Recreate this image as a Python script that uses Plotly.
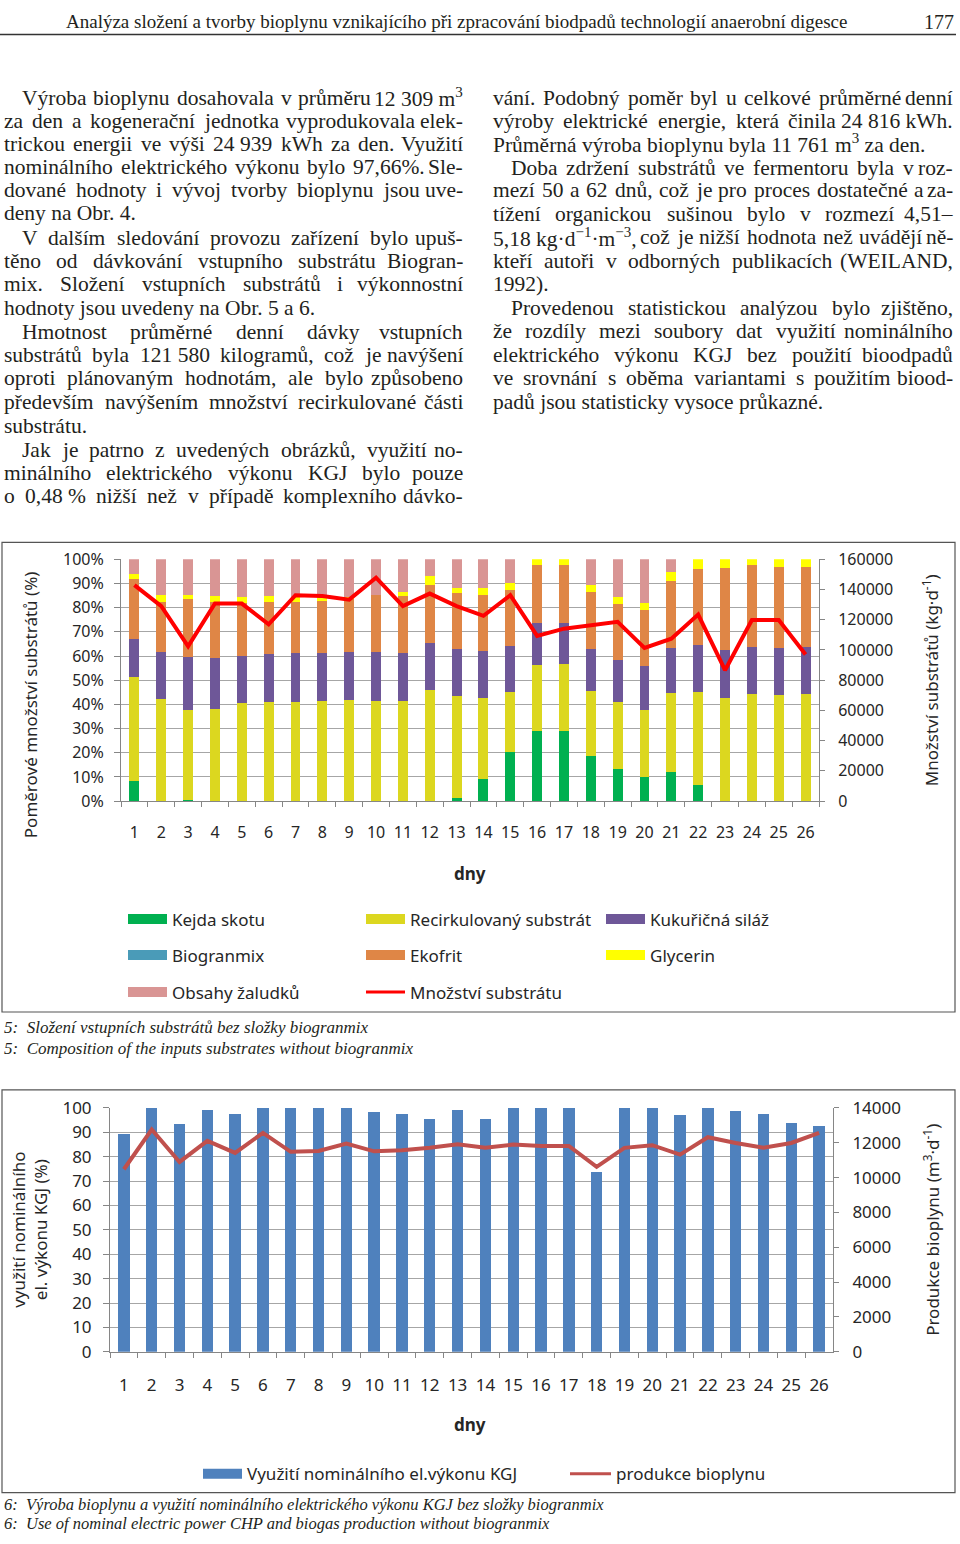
import re
import unicodedata

import plotly.graph_objects as go

W, H = 960, 1544
# the photographed page comes out squeezed a little vertically; measured on earlier runs
SY, OY = 0.9857, 11.4


def px(x):
    return x / W


def py(y):
    # y = wanted pixel row in the photo
    return 1 - ((y - OY) / SY) / H


dny = [str(d) for d in range(1, 27)]

# Obr. 5 - podily vstupnich substratu (%)
kejda_skotu = [8.5, 0, 0.4, 0, 0, 0, 0, 0, 0, 0, 0, 0, 1.4,
               9.2, 20.4, 28.9, 29.1, 18.7, 13.1, 10.1, 12.1, 6.5, 0, 0, 0, 0]
recirkulovany = [42.9, 42.3, 37.3, 38.2, 40.5, 40.8, 40.8, 41.3, 41.7, 41.3, 41.3, 46.1, 42.0,
                 33.5, 24.8, 27.3, 27.6, 26.9, 27.8, 27.6, 32.7, 38.7, 42.7, 44.2, 43.9, 44.2]
kukuricna_silaz = [15.7, 19.3, 21.7, 20.9, 19.7, 19.9, 20.4, 19.9, 19.9, 20.3, 19.9, 19.3, 19.4,
                   19.3, 19.0, 17.6, 17.1, 17.2, 17.4, 18.1, 18.6, 19.5, 19.7, 19.4, 19.5, 19.6]
biogranmix = [0] * 26
ekofrit = [24.9, 20.8, 24.1, 23.3, 21.9, 21.7, 21.2, 21.6, 22.1, 23.5, 23.6, 23.9, 23.4,
           23.1, 23.0, 23.7, 23.7, 23.7, 23.1, 23.1, 27.6, 31.2, 34.0, 33.9, 33.4, 33.0]
glycerin = [1.8, 2.7, 1.9, 2.4, 2.3, 2.4, 2.0, 1.2, 0.7, 0, 1.7, 3.8, 2.1,
            3.1, 3.0, 2.5, 2.5, 2.8, 3.0, 3.1, 3.8, 4.1, 3.6, 2.5, 3.2, 3.2]
obsahy_zaludku = [6.2, 14.9, 14.6, 15.2, 15.6, 15.2, 15.6, 16.0, 15.6, 14.9, 13.5, 6.9, 11.7,
                  11.8, 9.8, 0, 0, 10.7, 15.6, 18.0, 5.2, 0, 0, 0, 0, 0]
# mnozstvi substratu (kg/d)
mnozstvi = [142900, 129000, 102400, 130700, 130700, 117000, 136200, 135700, 133300, 147800,
            129000, 137300, 129000, 122600, 136200, 109300, 114100, 116300, 118600, 101400,
            107500, 123400, 86600, 119800, 119800, 97000]

# Obr. 6 - vyuziti nominalniho vykonu (%) a produkce bioplynu (m3/d)
vyuziti = [89.2, 100, 93.4, 99.2, 97.4, 100, 100, 100, 100, 98.4, 97.4, 95.6, 99.2,
           95.6, 100, 100, 100, 73.9, 100, 100, 97.0, 100, 98.8, 97.4, 94.0, 92.6]
bioplyn = [10480, 12760, 10900, 12110, 11420, 12570, 11480, 11530, 11950, 11510, 11570, 11710,
           11920, 11710, 11900, 11820, 11820, 10620, 11710, 11860, 11320, 12320, 11990, 11710,
           11990, 12570]

substraty = [
    ("Kejda skotu", kejda_skotu, "#00B050"),
    ("Recirkulovaný substrát", recirkulovany, "#DCD71F"),
    ("Kukuřičná siláž", kukuricna_silaz, "#6E5798"),
    ("Biogranmix", biogranmix, "#4A9BB8"),
    ("Ekofrit", ekofrit, "#DF8646"),
    ("Glycerin", glycerin, "#FFFF00"),
    ("Obsahy žaludků", obsahy_zaludku, "#D99594"),
]

CHART_FONT = "Noto Sans"
TEXT_FONT = "Liberation Serif"
GRID = "#A6A6A6"
AXIS = "#868686"
INK = "#262626"

fig = go.Figure()

for name, vals, col in substraty:
    fig.add_trace(go.Bar(x=dny, y=vals, name=name, marker=dict(color=col, line_width=0),
                         width=0.37, xaxis="x", yaxis="y"))

fig.add_trace(go.Scatter(x=dny, y=mnozstvi, name="Množství substrátu", mode="lines",
                         line=dict(color="#FF0000", width=4), xaxis="x", yaxis="y2"))

fig.add_trace(go.Bar(x=dny, y=vyuziti, name="Využití nominálního el.výkonu KGJ",
                     marker=dict(color="#4F81BD", line_width=0), width=0.41,
                     xaxis="x2", yaxis="y3"))
fig.add_trace(go.Scatter(x=dny, y=bioplyn, name="produkce bioplynu", mode="lines",
                         line=dict(color="#C0504D", width=4), xaxis="x2", yaxis="y4"))

tick_font = dict(family=CHART_FONT, size=16, color=INK)
tick_font2 = dict(family=CHART_FONT, size=17, color=INK)

fig.update_layout(
    width=W, height=H,
    margin=dict(l=0, r=0, t=0, b=0),
    paper_bgcolor="white", plot_bgcolor="white",
    barmode="stack", bargap=0.6,
    showlegend=False,
    font=dict(family=CHART_FONT, color=INK),
    xaxis=dict(domain=[px(121), px(819)], anchor="y", type="category",
               tickson="boundaries", ticks="outside", ticklen=5, tickcolor=AXIS,
               showline=True, linecolor=AXIS, showgrid=False, tickangle=0,
               ticklabelstandoff=17, tickfont=tick_font),
    yaxis=dict(domain=[py(801), py(559)], anchor="x", range=[0, 100], dtick=10,
               ticksuffix="%", ticks="outside", ticklen=6, tickcolor=AXIS,
               showline=True, linecolor=AXIS, gridcolor=GRID, zeroline=False,
               ticklabelstandoff=7, tickfont=tick_font),
    yaxis2=dict(overlaying="y", side="right", anchor="x", range=[0, 160000], dtick=20000,
                tickformat="d", ticks="outside", ticklen=5, tickcolor=AXIS,
                showline=True, linecolor=AXIS, showgrid=False, zeroline=False,
                ticklabelstandoff=10, tickfont=tick_font),
    xaxis2=dict(domain=[px(110), px(833)], anchor="y3", type="category",
                tickson="boundaries", ticks="outside", ticklen=5, tickcolor=AXIS,
                showline=True, linecolor=AXIS, showgrid=False, tickangle=0,
                ticklabelstandoff=18, tickfont=tick_font2),
    yaxis3=dict(domain=[py(1352), py(1108)], anchor="x2", range=[0, 100], dtick=10,
                ticks="outside", ticklen=6, tickcolor=AXIS,
                showline=True, linecolor=AXIS, gridcolor=GRID, zeroline=False,
                ticklabelstandoff=8, tickfont=tick_font2),
    yaxis4=dict(overlaying="y3", side="right", anchor="x2", range=[0, 14000], dtick=2000,
                tickformat="d", ticks="outside", ticklen=5, tickcolor=AXIS,
                showline=True, linecolor=AXIS, showgrid=False, zeroline=False,
                ticklabelstandoff=10, tickfont=tick_font2),
)

shapes = []
annots = []


def text(x, y, s, size, family=TEXT_FONT, anchor="left", color="#231F20", angle=0,
         bold=False, yanchor="middle", yp=None):
    if bold:
        s = "<b>" + s + "</b>"
    annots.append(dict(x=px(x), y=py(y) if yp is None else yp, xref="paper", yref="paper",
                       text=s, showarrow=False, xanchor=anchor, yanchor=yanchor,
                       textangle=angle, font=dict(family=family, size=size, color=color)))


# Times / Liberation Serif advance widths (1/1000 em), used to justify the body text
ADV = dict(a=444, b=500, c=444, d=500, e=444, f=333, g=500, h=500, i=278, j=278, k=500,
           l=278, m=778, n=500, o=500, p=500, q=500, r=333, s=389, t=278, u=500, v=500,
           w=722, x=500, y=500, z=444,
           A=722, B=667, C=667, D=722, E=611, F=556, G=722, H=722, I=333, J=389, K=722,
           L=611, M=889, N=722, O=722, P=556, Q=722, R=667, S=556, T=611, U=722, V=722,
           W=944, X=722, Y=722, Z=611)
ADV.update({" ": 250, "\u00a0": 250, ".": 250, ",": 250, ":": 278, ";": 278, "-": 333,
            "(": 333, ")": 333, "%": 833, "·": 250, "–": 500, "−": 564})


def units(s):
    tot = 0
    for ch in s:
        base = unicodedata.normalize("NFD", ch)[0]
        tot += ADV.get(base, 500)
    return tot


def width(s, size):
    tot = 0
    for part in re.split(r"(<sup>.*?</sup>)", s):
        if part.startswith("<sup>"):
            tot += 0.7 * units(part[5:-6])
        else:
            tot += units(part)
    return tot * size / 1000


BODY = 21.5


def body_line(x0, x1, y, s, justify):
    if not justify:
        text(x0, y, s, BODY)
        return
    words = s.split(" ")
    size = BODY
    ws = [width(w, size) for w in words]
    gap = (x1 - x0 - sum(ws)) / (len(words) - 1)
    if gap < 2.5:
        size = BODY * (x1 - x0 - 2.5 * (len(words) - 1)) / sum(ws)
        ws = [width(w, size) for w in words]
        gap = (x1 - x0 - sum(ws)) / (len(words) - 1)
    x = x0
    for i, w in enumerate(words):
        if i == len(words) - 1:
            text(x1, y, w, size, anchor="right")
        else:
            text(x, y, w, size)
        x += ws[i] + gap


# header (pinned to the very top, it cannot go higher)
text(64, 0, "Analýza složení a tvorby bioplynu vznikajícího při zpracování biodpadů "
     "technologií anaerobní digesce", 19, yanchor="top", yp=1 + 3 / H)
text(956, 0, "177", 20, anchor="right", yanchor="top", yp=1 + 3 / H)
shapes.append(dict(type="line", xref="paper", yref="paper", x0=0, x1=px(956),
                   y0=py(34), y1=py(34), line=dict(color="#333333", width=1.5)))

NB = "\u00a0"
# body text: (row, paragraph start, justified, line)
left_col = [
    (97, True, True, f"Výroba bioplynu dosahovala v průměru 12{NB}309{NB}m<sup>3</sup>"),
    (120, False, True, "za den a kogenerační jednotka vyprodukovala elek-"),
    (143, False, True, f"trickou energii ve výši 24{NB}939 kWh za den. Využití"),
    (166, False, True, "nominálního elektrického výkonu bylo 97,66%. Sle-"),
    (190, False, True, "dované hodnoty i vývoj tvorby bioplynu jsou uve-"),
    (213, False, False, "deny na Obr. 4."),
    (238, True, True, "V dalším sledování provozu zařízení bylo upuš-"),
    (261, False, True, "těno od dávkování vstupního substrátu Biogran-"),
    (284, False, True, "mix. Složení vstupních substrátů i výkonnostní"),
    (308, False, False, "hodnoty jsou uvedeny na Obr. 5 a 6."),
    (332, True, True, "Hmotnost průměrné denní dávky vstupních"),
    (355, False, True, f"substrátů byla 121{NB}580 kilogramů, což je navýšení"),
    (378, False, True, "oproti plánovaným hodnotám, ale bylo způsobeno"),
    (402, False, True, "především navýšením množství recirkulované části"),
    (426, False, False, "substrátu."),
    (450, True, True, "Jak je patrno z uvedených obrázků, využití no-"),
    (473, False, True, "minálního elektrického výkonu KGJ bylo pouze"),
    (496, False, True, f"o 0,48{NB}% nižší než v případě komplexního dávko-"),
]
right_col = [
    (97, False, True, "vání. Podobný poměr byl u celkové průměrné denní"),
    (120, False, True, f"výroby elektrické energie, která činila 24{NB}816{NB}kWh."),
    (143, False, False, "Průměrná výroba bioplynu byla 11 761 m<sup>3</sup> za den."),
    (167, True, True, "Doba zdržení substrátů ve fermentoru byla v roz-"),
    (190, False, True, "mezí 50 a 62 dnů, což je pro proces dostatečné a za-"),
    (214, False, True, "tížení organickou sušinou bylo v rozmezí 4,51–"),
    (237, False, True, f"5,18{NB}kg·d<sup>−1</sup>·m<sup>−3</sup>, což je nižší hodnota než uvádějí ně-"),
    (261, False, True, "kteří autoři v odborných publikacích (WEILAND,"),
    (284, False, False, "1992)."),
    (308, True, True, "Provedenou statistickou analýzou bylo zjištěno,"),
    (331, False, True, "že rozdíly mezi soubory dat využití nominálního"),
    (355, False, True, "elektrického výkonu KGJ bez použití bioodpadů"),
    (378, False, True, "ve srovnání s oběma variantami s použitím biood-"),
    (402, False, False, "padů jsou statisticky vysoce průkazné."),
]
for y, indent, just, s in left_col:
    body_line(20 if indent else 2, 465, y, s, just)
for y, indent, just, s in right_col:
    body_line(509 if indent else 491, 955, y, s, just)

# chart frames
for y0, y1 in [(542, 1012), (1090, 1493)]:
    shapes.append(dict(type="rect", xref="paper", yref="paper", x0=px(2), x1=px(955),
                       y0=py(y0), y1=py(y1), line=dict(color="#555555", width=1.2)))

# chart 1 titles
text(30, 705, "Poměrové množství substrátů (%)", 17, CHART_FONT, "center", INK, -90)
text(930, 680, "Množství substrátů (kg·d<sup>-1</sup>)", 17, CHART_FONT, "center", INK, -90)
text(470, 873, "dny", 17, CHART_FONT, "center", INK, bold=True)

# chart 1 legend
legend1 = [
    (128, 919, 0), (366, 919, 1), (606, 919, 2),
    (128, 955, 3), (366, 955, 4), (606, 955, 5),
    (128, 992, 6),
]
for lx, ly, i in legend1:
    name, _, col = substraty[i]
    shapes.append(dict(type="rect", xref="paper", yref="paper", x0=px(lx), x1=px(lx + 39),
                       y0=py(ly - 5), y1=py(ly + 5), fillcolor=col, line_width=0))
    text(lx + 42, ly, name, 17, CHART_FONT, "left", INK)
shapes.append(dict(type="line", xref="paper", yref="paper", x0=px(366), x1=px(405),
                   y0=py(992), y1=py(992), line=dict(color="#FF0000", width=3)))
text(408, 992, "Množství substrátu", 17, CHART_FONT, "left", INK)

# caption 5
text(2, 1028, "<i>5:  Složení vstupních substrátů bez složky biogranmix</i>", 17)
text(2, 1049, "<i>5:  Composition of the inputs substrates without biogranmix</i>", 17)

# chart 2 titles
text(30, 1230, "využití nominálního<br>el. výkonu KGJ (%)", 17, CHART_FONT, "center", INK, -90)
text(932, 1230, "Produkce bioplynu (m<sup>3</sup>·d<sup>-1</sup>)", 17, CHART_FONT, "center", INK, -90)
text(470, 1425, "dny", 17, CHART_FONT, "center", INK, bold=True)

# chart 2 legend
shapes.append(dict(type="rect", xref="paper", yref="paper", x0=px(203), x1=px(242),
                   y0=py(1469), y1=py(1479), fillcolor="#4F81BD", line_width=0))
text(245, 1474, "Využití nominálního el.výkonu KGJ", 17, CHART_FONT, "left", INK)
shapes.append(dict(type="line", xref="paper", yref="paper", x0=px(570), x1=px(611),
                   y0=py(1474), y1=py(1474), line=dict(color="#C0504D", width=3)))
text(614, 1474, "produkce bioplynu", 17, CHART_FONT, "left", INK)

# caption 6 (last line sits on the bottom edge)
text(2, 1505, "<i>6:  Výroba bioplynu a využití nominálního elektrického výkonu KGJ "
     "bez složky biogranmix</i>", 16.5)
text(2, 0, "<i>6:  Use of nominal electric power CHP and biogas production "
     "without biogranmix</i>", 16.5, yanchor="bottom", yp=-2 / H)

fig.update_layout(shapes=shapes, annotations=annots)

# pin the graph to the window corner so the page is exactly the figure
page_fix = ("var g=document.getElementById('{plot_id}');"
            "g.style.position='fixed';g.style.left='0px';g.style.top='0px';"
            "document.body.style.margin='0';"
            "document.documentElement.style.overflow='hidden';"
            "document.body.style.overflow='hidden';")
fig.write_html("out.html", config={"displayModeBar": False}, post_script=page_fix)
